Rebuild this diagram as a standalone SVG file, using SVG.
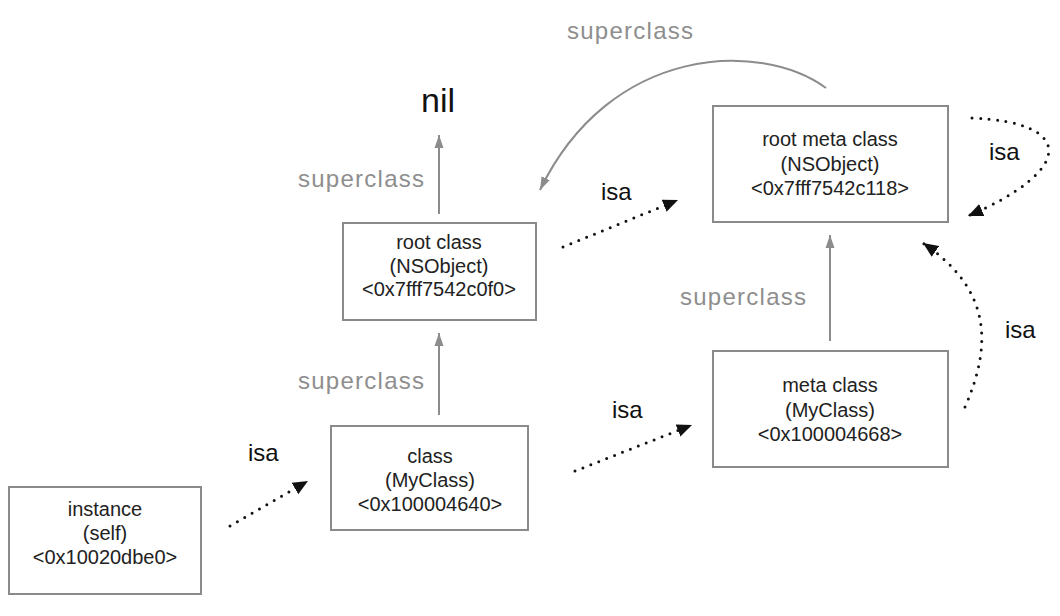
<svg xmlns="http://www.w3.org/2000/svg" width="1060" height="616" viewBox="0 0 1060 616">
<style>
.box{fill:#fff;stroke:#8a8a8a;stroke-width:2}
.bt{font-family:"Liberation Sans",Arial,sans-serif;font-size:20px;fill:#222;text-anchor:middle}
.sup{font-family:"Liberation Sans",Arial,sans-serif;font-size:24px;fill:#8e8e8e}
.isa{font-family:"Liberation Sans",Arial,sans-serif;font-size:24px;fill:#111}
.nil{font-family:"Liberation Sans",Arial,sans-serif;font-size:34px;fill:#111;text-anchor:middle}
.sl{fill:none;stroke:#8c8c8c;stroke-width:2;marker-end:url(#ga)}
.dl{fill:none;stroke:#111;stroke-width:3;stroke-dasharray:0 8.5;stroke-linecap:round;marker-end:url(#ba)}
</style>
<defs>
<marker id="ga" markerUnits="userSpaceOnUse" markerWidth="14" markerHeight="12" viewBox="0 0 14 12" refX="13" refY="6" orient="auto">
<path d="M0,1.5 L13,6 L0,10.5 Z" fill="#8c8c8c"/>
</marker>
<marker id="ba" markerUnits="userSpaceOnUse" markerWidth="16" markerHeight="14" viewBox="0 0 16 14" refX="15" refY="7" orient="auto">
<path d="M0,0.5 L15,7 L0,13.5 Z" fill="#111"/>
</marker>
</defs>
<rect width="1060" height="616" fill="#fff"/>
<g id="connectors">
<path class="sl" d="M439 214 L439 135"/>
<path class="sl" d="M439 415 L439 333"/>
<path class="sl" d="M830 341 L830 235"/>
<path class="sl" d="M826 88 C760 40 610 45 540 190"/>
<path class="dl" d="M230 526 L308 481"/>
<path class="dl" d="M575 471 L692 425"/>
<path class="dl" d="M563 247 L678 200"/>
<path class="dl" d="M965 407 C992 345 992 290 923 243"/>
<path class="dl" d="M972 118 C1075 122 1075 170 968 216"/>
</g>
<g id="labels">
<text class="nil" x="438" y="112">nil</text>
<text class="sup" x="298" y="187" textLength="126" lengthAdjust="spacing">superclass</text>
<text class="sup" x="298" y="389" textLength="126" lengthAdjust="spacing">superclass</text>
<text class="sup" x="680" y="305" textLength="126" lengthAdjust="spacing">superclass</text>
<text class="sup" x="567" y="39" textLength="126" lengthAdjust="spacing">superclass</text>
<text class="isa" x="248" y="461">isa</text>
<text class="isa" x="612" y="418">isa</text>
<text class="isa" x="601" y="200">isa</text>
<text class="isa" x="989" y="160">isa</text>
<text class="isa" x="1005" y="338">isa</text>
</g>
<g id="instance">
<rect class="box" x="9" y="487" width="192" height="107"/>
<text class="bt" x="105" y="516">instance</text>
<text class="bt" x="105" y="540">(self)</text>
<text class="bt" x="105" y="564">&lt;0x10020dbe0&gt;</text>
</g>
<g id="class">
<rect class="box" x="331" y="426" width="197" height="104"/>
<text class="bt" x="430" y="463">class</text>
<text class="bt" x="430" y="487">(MyClass)</text>
<text class="bt" x="430" y="511">&lt;0x100004640&gt;</text>
</g>
<g id="root-class">
<rect class="box" x="343" y="223" width="193" height="97"/>
<text class="bt" x="439" y="249">root class</text>
<text class="bt" x="439" y="273">(NSObject)</text>
<text class="bt" x="439" y="296">&lt;0x7fff7542c0f0&gt;</text>
</g>
<g id="meta-class">
<rect class="box" x="713" y="351" width="235" height="116"/>
<text class="bt" x="830" y="392">meta class</text>
<text class="bt" x="830" y="417">(MyClass)</text>
<text class="bt" x="830" y="441">&lt;0x100004668&gt;</text>
</g>
<g id="root-meta-class">
<rect class="box" x="713" y="106" width="235" height="116"/>
<text class="bt" x="830" y="146">root meta class</text>
<text class="bt" x="830" y="171">(NSObject)</text>
<text class="bt" x="830" y="195">&lt;0x7fff7542c118&gt;</text>
</g>
</svg>
